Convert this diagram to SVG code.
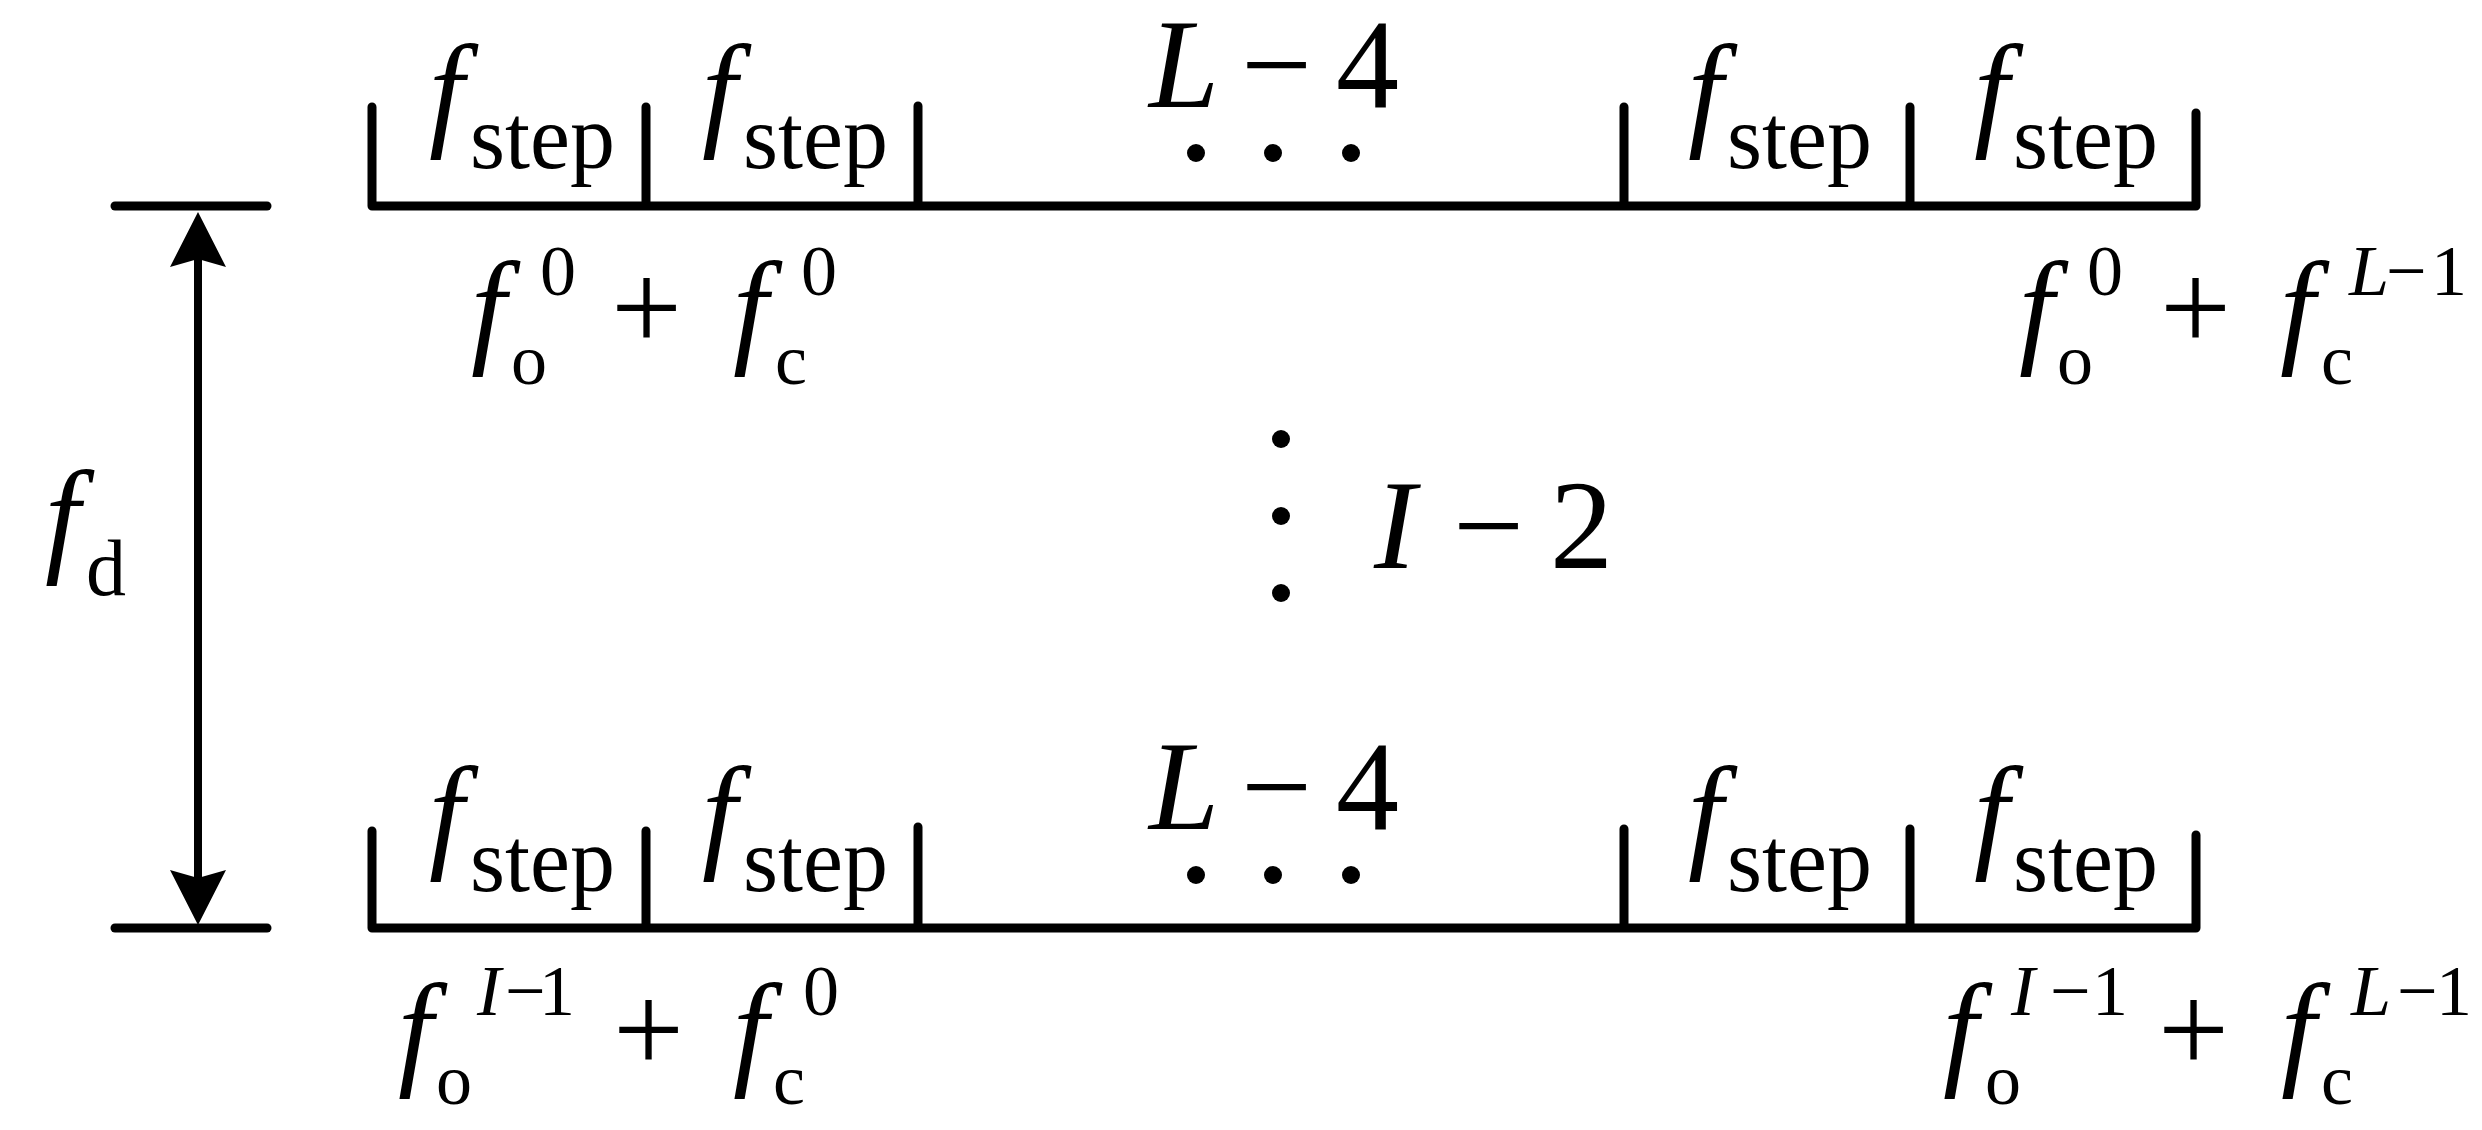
<svg xmlns="http://www.w3.org/2000/svg" width="2482" height="1130" viewBox="0 0 2482 1130">
<style>
.t{font-family:"Liberation Serif","Times New Roman",serif;fill:#000}
.m{font-size:126px}
.i{font-style:italic}
.s{font-size:72px}
.st{font-size:90px}
.d{font-size:80px}
.ln{stroke:#000;stroke-width:9;fill:none;stroke-linecap:round;stroke-linejoin:round}
.ar{stroke:#000;stroke-width:8;fill:none}
.dot{fill:#000}
</style>
<defs>
<marker id="ah" viewBox="0 0 56 56" refX="17" refY="28" markerWidth="56" markerHeight="56" markerUnits="userSpaceOnUse" orient="auto-start-reverse">
<path d="M0,0 L55,28 L0,56 L8,28 Z" fill="#000"/>
</marker>
</defs>
<rect x="0" y="0" width="2482" height="1130" fill="#fff"/>

<g id="connectors">
<path class="ln" d="M115,206 H267"/>
<path class="ln" d="M115,928 H267"/>
<path class="ar" d="M198,250 V887" marker-start="url(#ah)" marker-end="url(#ah)"/>
</g>

<g id="label-fd">
<text class="t m i" x="45" y="559">f</text>
<text class="t d" x="86" y="595">d</text>
</g>

<g id="row-top">
<path class="ln" d="M372,107 V206 H2196 V113 M646,107 V206 M918,106 V206 M1624,107 V206 M1910,107 V206"/>
<text class="t m i" x="429" y="133">f</text><text class="t st" x="470" y="168">step</text>
<text class="t m i" x="702" y="133">f</text><text class="t st" x="743" y="168">step</text>
<text class="t m i" x="1688" y="133">f</text><text class="t st" x="1727" y="168">step</text>
<text class="t m i" x="1974" y="133">f</text><text class="t st" x="2013" y="168">step</text>
<text class="t m i" x="1149" y="107">L</text>
<text class="t m" x="1241" y="107">−</text>
<text class="t m" x="1336" y="107">4</text>
<circle class="dot" cx="1196" cy="153" r="9"/>
<circle class="dot" cx="1273" cy="153" r="9"/>
<circle class="dot" cx="1351" cy="153" r="9"/>
</g>

<g id="label-top-left">
<text class="t m i" x="471" y="350">f</text>
<text class="t s" x="511" y="384">o</text>
<text class="t s" x="540" y="295">0</text>
<text class="t m" x="611" y="350">+</text>
<text class="t m i" x="733" y="350">f</text>
<text class="t s" x="775" y="384">c</text>
<text class="t s" x="801" y="295">0</text>
</g>

<g id="label-top-right">
<text class="t m i" x="2019" y="350">f</text>
<text class="t s" x="2057" y="384">o</text>
<text class="t s" x="2087" y="295">0</text>
<text class="t m" x="2160" y="350">+</text>
<text class="t m i" x="2280" y="350">f</text>
<text class="t s" x="2321" y="384">c</text>
<text class="t s i" x="2349" y="295">L</text>
<text class="t s" x="2386" y="295">−</text>
<text class="t s" x="2431" y="295">1</text>
</g>

<g id="middle-dots">
<circle class="dot" cx="1281" cy="439" r="9"/>
<circle class="dot" cx="1281" cy="516" r="9"/>
<circle class="dot" cx="1281" cy="593" r="9"/>
<text class="t m i" x="1374" y="568">I</text>
<text class="t m" x="1453" y="568">−</text>
<text class="t m" x="1550" y="568">2</text>
</g>

<g id="row-bottom">
<path class="ln" d="M372,831 V928 H2196 V835 M646,831 V928 M918,827 V928 M1624,829 V928 M1910,829 V928"/>
<text class="t m i" x="429" y="855">f</text><text class="t st" x="470" y="891">step</text>
<text class="t m i" x="702" y="855">f</text><text class="t st" x="743" y="891">step</text>
<text class="t m i" x="1688" y="855">f</text><text class="t st" x="1727" y="891">step</text>
<text class="t m i" x="1974" y="855">f</text><text class="t st" x="2013" y="891">step</text>
<text class="t m i" x="1149" y="829">L</text>
<text class="t m" x="1241" y="829">−</text>
<text class="t m" x="1336" y="829">4</text>
<circle class="dot" cx="1196" cy="875" r="9"/>
<circle class="dot" cx="1273" cy="875" r="9"/>
<circle class="dot" cx="1351" cy="875" r="9"/>
</g>

<g id="label-bottom-left">
<text class="t m i" x="398" y="1072">f</text>
<text class="t s" x="436" y="1104">o</text>
<text class="t s i" x="477" y="1015">I</text>
<text class="t s" x="505" y="1015">−</text>
<text class="t s" x="539" y="1015">1</text>
<text class="t m" x="613" y="1072">+</text>
<text class="t m i" x="733" y="1072">f</text>
<text class="t s" x="773" y="1104">c</text>
<text class="t s" x="803" y="1015">0</text>
</g>

<g id="label-bottom-right">
<text class="t m i" x="1943" y="1072">f</text>
<text class="t s" x="1985" y="1104">o</text>
<text class="t s i" x="2011" y="1015">I</text>
<text class="t s" x="2050" y="1015">−</text>
<text class="t s" x="2092" y="1015">1</text>
<text class="t m" x="2158" y="1072">+</text>
<text class="t m i" x="2281" y="1072">f</text>
<text class="t s" x="2321" y="1104">c</text>
<text class="t s i" x="2351" y="1015">L</text>
<text class="t s" x="2397" y="1015">−</text>
<text class="t s" x="2436" y="1015">1</text>
</g>
</svg>
